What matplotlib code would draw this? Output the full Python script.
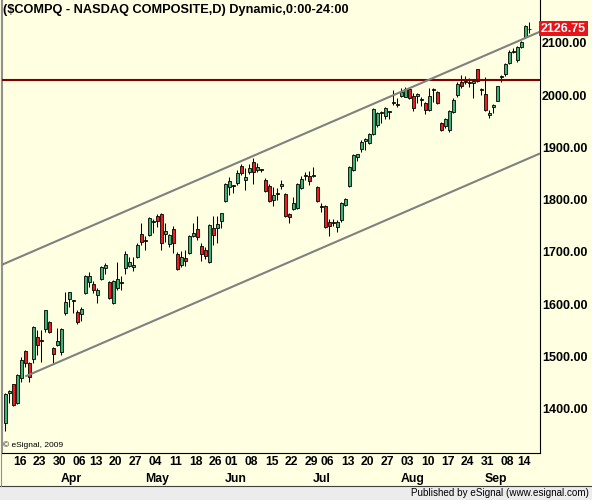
import numpy as np
import pandas as pd
import matplotlib
matplotlib.use('Agg')
import matplotlib.pyplot as plt
from matplotlib.patches import Rectangle
from matplotlib.lines import Line2D

plt.rcParams['font.family'] = ['Liberation Sans', 'DejaVu Sans']

# trading calendar for the window shown
holidays = ['2009-04-10', '2009-05-25', '2009-07-03', '2009-09-07']
dates = pd.bdate_range('2009-03-12', '2009-09-17', freq='C', holidays=holidays)

# daily OHLC
opens = [1373, 1430, 1447, 1412, 1459, 1510, 1488, 1495, 1537, 1532,
         1552, 1566, 1517, 1522, 1508, 1583, 1611, 1608, 1586, 1581,
         1621, 1643, 1639, 1617, 1648, 1669, 1643, 1602, 1631, 1640,
         1669, 1673, 1671, 1691, 1734, 1723, 1732, 1757, 1769, 1773,
         1734, 1715, 1744, 1697, 1675, 1688, 1699, 1730, 1744, 1711,
         1704, 1680, 1745, 1746, 1759, 1798, 1824, 1828, 1831, 1865,
         1838, 1852, 1872, 1856, 1859, 1838, 1826, 1799, 1812, 1827,
         1811, 1773, 1782, 1784, 1822, 1846, 1845, 1846, 1824, 1788,
         1788, 1758, 1758, 1747, 1761, 1790, 1826, 1857, 1881, 1896,
         1913, 1909, 1925, 1943, 1966, 1959, 1967, 1985, 1980, 1999,
         1997, 2011, 1998, 1999, 1991, 1985, 1971, 2010, 2006, 1947,
         1940, 1933, 1968, 2000, 2025, 2024, 2023, 2022, 2049, 2009,
         2001, 1962, 1977, 1989, 2034, 2040, 2061, 2082, 2066, 2091,
         2110, 2126]
highs = [1431, 1436, 1448, 1466, 1500, 1512, 1490, 1558, 1550, 1550,
         1590, 1569, 1518, 1554, 1555, 1624, 1624, 1608, 1590, 1595,
         1656, 1661, 1645, 1631, 1674, 1678, 1645, 1646, 1680, 1655,
         1702, 1690, 1690, 1717, 1755, 1731, 1766, 1763, 1772, 1775,
         1755, 1735, 1749, 1700, 1702, 1704, 1733, 1755, 1768, 1717,
         1709, 1754, 1768, 1768, 1775, 1832, 1844, 1828, 1857, 1869,
         1860, 1868, 1879, 1870, 1859, 1841, 1830, 1824, 1823, 1838,
         1812, 1775, 1806, 1832, 1845, 1853, 1855, 1863, 1826, 1794,
         1790, 1763, 1763, 1761, 1796, 1803, 1864, 1887, 1888, 1914,
         1917, 1927, 1975, 1968, 1970, 1977, 1970, 2010, 1994, 2013,
         2015, 2014, 2003, 2003, 1996, 1987, 2013, 2014, 2008, 1949,
         1957, 1972, 1994, 2025, 2038, 2036, 2032, 2027, 2050, 2013,
         2034, 1971, 1983, 2018, 2038, 2061, 2086, 2089, 2093, 2104,
         2134, 2140]
lows = [1358, 1412, 1405, 1409, 1452, 1480, 1452, 1487, 1503, 1490,
        1548, 1545, 1488, 1520, 1503, 1579, 1595, 1583, 1562, 1568,
        1619, 1634, 1621, 1602, 1646, 1658, 1610, 1600, 1627, 1627,
        1658, 1671, 1663, 1688, 1713, 1704, 1730, 1736, 1748, 1704,
        1720, 1710, 1698, 1665, 1671, 1673, 1697, 1728, 1723, 1683,
        1686, 1678, 1713, 1717, 1745, 1796, 1809, 1812, 1828, 1848,
        1819, 1849, 1830, 1853, 1852, 1815, 1795, 1788, 1799, 1820,
        1766, 1756, 1780, 1782, 1820, 1838, 1828, 1844, 1796, 1777,
        1745, 1731, 1750, 1739, 1758, 1788, 1824, 1855, 1874, 1892,
        1894, 1907, 1923, 1938, 1947, 1955, 1954, 1981, 1978, 1996,
        1996, 1992, 1970, 1985, 1979, 1964, 1969, 1987, 1983, 1931,
        1937, 1930, 1965, 1996, 2013, 2021, 2015, 1994, 2025, 2000,
        1970, 1957, 1966, 1988, 2024, 2036, 2059, 2080, 2064, 2089,
        2108, 2119]
closes = [1428, 1434, 1407, 1464, 1494, 1487, 1461, 1556, 1522, 1530,
          1589, 1548, 1505, 1530, 1552, 1604, 1623, 1606, 1566, 1592,
          1654, 1654, 1627, 1627, 1671, 1675, 1612, 1644, 1648, 1642,
          1696, 1681, 1675, 1713, 1720, 1721, 1764, 1759, 1760, 1718,
          1740, 1732, 1718, 1667, 1690, 1682, 1731, 1737, 1729, 1697,
          1692, 1752, 1732, 1754, 1774, 1830, 1836, 1826, 1850, 1850,
          1844, 1861, 1853, 1863, 1857, 1817, 1798, 1809, 1810, 1829,
          1768, 1766, 1794, 1830, 1839, 1848, 1836, 1848, 1798, 1786,
          1748, 1750, 1756, 1758, 1793, 1801, 1863, 1885, 1887, 1910,
          1915, 1925, 1973, 1966, 1968, 1975, 1969, 1987, 1982, 2006,
          2011, 1994, 1975, 2001, 1993, 1971, 1998, 2012, 1985, 1933,
          1955, 1970, 1990, 2021, 2017, 2026, 2025, 2027, 2027, 2011,
          1971, 1966, 1981, 2017, 2036, 2059, 2083, 2085, 2091, 2102,
          2132, 2126.75]

# drawing tools on the chart
resistance_level = 2028.5
upper_channel_idx = [0, 131]
upper_channel_px = [1678.4, 2112.2]
lower_channel_start_idx = 5
lower_channel_start_px = 1462.2

title = '($COMPQ - NASDAQ COMPOSITE,D) Dynamic,0:00-24:00'
price_ticks = [1400, 1500, 1600, 1700, 1800, 1900, 2000, 2100]

assert len(opens) == len(highs) == len(lows) == len(closes) == len(dates)

BG = '#FFFFE1'
UP = '#3CB371'
DOWN = '#EE1C1C'

fig = plt.figure(figsize=(5.92, 5.0), dpi=100, facecolor=BG)
W, H = 592.0, 500.0
ax = fig.add_axes([1.5 / W, 1 - 452.5 / H, 538.5 / W, 452.5 / H], facecolor=BG)

x = np.arange(len(dates))
o = np.array(opens, dtype=float)
c = np.array(closes, dtype=float)
hi = np.array(highs, dtype=float)
lo = np.array(lows, dtype=float)
up = c >= o

ax.vlines(x, lo, hi, color='black', linewidth=0.75, zorder=2)
body_lo = np.minimum(o, c)
body_h = np.maximum(np.abs(c - o), 0.5)
ax.bar(x, body_h, bottom=body_lo, width=0.75,
       color=np.where(up, UP, DOWN), edgecolor='black', linewidth=0.6, zorder=3)

# horizontal level and the channel
ax.axhline(resistance_level, color='#800000', linewidth=1.5, zorder=4)
slope = (upper_channel_px[1] - upper_channel_px[0]) / (upper_channel_idx[1] - upper_channel_idx[0])
ax.axline((upper_channel_idx[0], upper_channel_px[0]), slope=slope,
          color='#808080', linewidth=1.5, zorder=4)
xr = len(dates) + 1.7
ax.plot([lower_channel_start_idx, xr],
        [lower_channel_start_px, lower_channel_start_px + slope * (xr - lower_channel_start_idx)],
        color='#808080', linewidth=1.5, zorder=4, solid_capstyle='butt')

ax.set_xlim((1.5 - 5.3) / 4.0, (540 - 5.3) / 4.0)
ax.set_ylim(2000 - (452.5 - 95) * 1.911, 2000 + 95 * 1.911)

ax.spines['top'].set_visible(False)
ax.spines['left'].set_color('#909090')
ax.spines['right'].set_color('black')
ax.spines['bottom'].set_color('black')
ax.set_xticks([])

# price axis on the right
ax.yaxis.tick_right()
ax.set_yticks(price_ticks)
ax.set_yticklabels(['%.2f' % p for p in price_ticks])
ax.tick_params(axis='y', length=0, pad=1.5, labelsize=9)
for lbl in ax.get_yticklabels():
  lbl.set_fontweight('bold')

ax.text(1.0015, closes[-1], '%.2f' % closes[-1], transform=ax.get_yaxis_transform(),
        ha='left', va='center', fontsize=9, fontweight='bold', color='white',
        bbox=dict(facecolor='#E8141B', edgecolor='none', pad=1.2), zorder=6, clip_on=False)

# week labels (first trading day of each week) and month labels
week = dates.to_period('W')
month = dates.to_period('M')
for i in range(1, len(dates)):
  if week[i] != week[i - 1]:
    ax.text(i - 0.1, -0.022, dates[i].strftime('%d'), transform=ax.get_xaxis_transform(),
            ha='left', va='center', fontsize=8.7, fontweight='bold')
  if month[i] != month[i - 1]:
    ax.text(i - 0.1, -0.0595, dates[i].strftime('%b'), transform=ax.get_xaxis_transform(),
            ha='left', va='center', fontsize=8.8, fontweight='bold')

fig.text(3 / W, 1 - 9.5 / H, title, ha='left', va='center', fontsize=9.2, fontweight='bold')
fig.text(3 / W, 1 - 445 / H, '\u00a9 eSignal, 2009', ha='left', va='center', fontsize=6)

# footer strip
fig.add_artist(Rectangle((0, 0), 1, 14 / H, transform=fig.transFigure,
                         facecolor='#ECECEC', edgecolor='none'))
fig.add_artist(Line2D([0, 1], [14 / H, 14 / H], transform=fig.transFigure,
                      color='#404040', linewidth=0.8))
fig.add_artist(Line2D([1 / W, 1 / W], [14 / H, 1], transform=fig.transFigure,
                      color='#909090', linewidth=0.8))
fig.text(589 / W, 7 / H, 'Published by eSignal (www.esignal.com)', ha='right', va='center',
         fontsize=7.1)

fig.savefig('out.png', dpi=100, facecolor=BG)
